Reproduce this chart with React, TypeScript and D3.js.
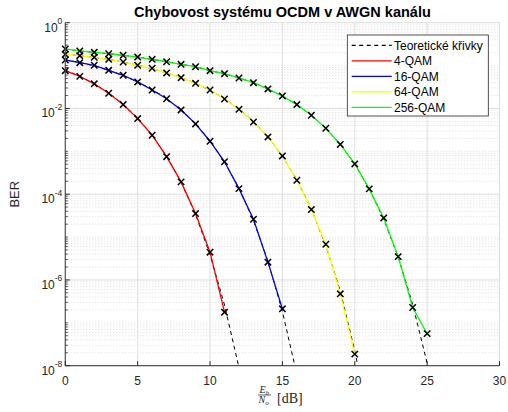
import React from 'react'
import * as d3 from 'd3'

// Eb/No in dB, one point per dB
const snr = d3.range(0, 27)

// simulated BER (markers + coloured lines)
const qam4Sim = [7.6e-2, 5.6e-2, 3.75e-2, 2.26e-2, 1.23e-2, 5.8e-3, 2.37e-3, 7.5e-4, 1.94e-4, 3.53e-5, 4.45e-6, 1.77e-7]
const qam16Sim = [0.135, 0.117, 0.1016, 0.0776, 0.0594, 0.0415, 0.0269, 0.0168, 0.00923, 0.00436, 0.00172, 5.7e-4, 1.35e-4, 2.61e-5, 2.6e-6, 2.12e-7]
const qam64Sim = [0.183, 0.17, 0.156, 0.14, 0.121, 0.1016, 0.0865, 0.0673, 0.0522, 0.0386, 0.0269, 0.0166, 0.00957, 0.00484, 0.00217, 7.8e-4, 2.12e-4, 4.38e-5, 6.8e-6, 4.74e-7, 1.86e-8]
const qam256Sim = [0.244, 0.219, 0.204, 0.189, 0.174, 0.158, 0.14, 0.123, 0.107, 0.0942, 0.076, 0.0647, 0.0514, 0.0399, 0.0285, 0.0195, 0.0123, 0.00693, 0.00345, 0.00145, 5.08e-4, 1.33e-4, 2.8e-5, 3.5e-6, 2.28e-7, 5.6e-8]

// theoretical BER (dashed)
const qam4Theory = [7.86e-2, 5.63e-2, 3.75e-2, 2.29e-2, 1.25e-2, 5.95e-3, 2.39e-3, 7.73e-4, 1.91e-4, 3.36e-5, 3.87e-6, 2.61e-7, 9.0e-9]
const qam16Theory = [0.136, 0.118, 0.0985, 0.0775, 0.0586, 0.0419, 0.0278, 0.017, 0.00924, 0.00439, 0.00176, 5.64e-4, 1.39e-4, 2.43e-5, 2.76e-6, 1.84e-7, 6.2e-9]
const qam64Theory = [0.183, 0.17, 0.156, 0.14, 0.121, 0.1016, 0.085, 0.0675, 0.0523, 0.0385, 0.0265, 0.0169, 0.00972, 0.00495, 0.00215, 7.72e-4, 2.17e-4, 4.5e-5, 6.36e-6, 5.5e-7, 2.2e-8, 5.0e-10]
const qam256Theory = [0.244, 0.219, 0.204, 0.189, 0.174, 0.158, 0.14, 0.123, 0.107, 0.0942, 0.076, 0.0647, 0.0514, 0.0399, 0.0285, 0.0195, 0.0123, 0.00693, 0.00345, 0.00145, 5.08e-4, 1.33e-4, 2.62e-5, 3.45e-6, 2.7e-7, 1.15e-8, 2.2e-10]

const seriesNames = ['4-QAM', '16-QAM', '64-QAM', '256-QAM']
const seriesColors = ['#ff0000', '#0000ff', '#ffff00', '#00ff00']
const simData = [qam4Sim, qam16Sim, qam64Sim, qam256Sim]
const theoryData = [qam4Theory, qam16Theory, qam64Theory, qam256Theory]

const xTicks = [0, 5, 10, 15, 20, 25, 30]
const yTickExps = [0, -2, -4, -6, -8]

const W = 508
const H = 412
const m = { left: 65.3, right: 499.5, top: 22.7, bottom: 365.7 }
const font = 'Liberation Sans, Arial, Helvetica, sans-serif'
const axisColor = '#262626'

export default function App() {
  const x = d3.scaleLinear().domain([0, 30]).range([m.left, m.right])
  const y = d3.scaleLog().domain([1e-8, 1]).range([m.bottom, m.top])
  const line = d3.line<[number, number]>().x(d => x(d[0])).y(d => y(d[1]))
  const pts = (vals: number[]) => vals.map((v, i) => [snr[i], v] as [number, number])

  // minor log grid: 1..9 x 10^k, majors only at even decades
  const minorY: number[] = []
  for (let k = -8; k < 0; k++) {
    for (let j = 1; j <= 9; j++) {
      if (j === 1 && k % 2 === 0) continue
      minorY.push(j * Math.pow(10, k))
    }
  }

  const legendRows = ['Teoretické křivky', ...seriesNames]

  return (
    <svg width={W} height={H} style={{ position: 'absolute', left: 0, top: 0, background: '#fff' }}>
      <defs>
        <clipPath id="plot">
          <rect x={m.left} y={m.top} width={m.right - m.left} height={m.bottom - m.top} />
        </clipPath>
      </defs>
      <rect width={W} height={H} fill="#fff" />

      {/* grid */}
      {minorY.map((v, i) => (
        <line key={'mg' + i} x1={m.left} x2={m.right} y1={y(v)} y2={y(v)} stroke="#c4c4c4" strokeWidth={0.6} strokeDasharray="1,2" />
      ))}
      {yTickExps.map(e => (
        <line key={'yg' + e} x1={m.left} x2={m.right} y1={y(Math.pow(10, e))} y2={y(Math.pow(10, e))} stroke="#dedede" strokeWidth={1} />
      ))}
      {xTicks.map(t => (
        <line key={'xg' + t} x1={x(t)} x2={x(t)} y1={m.top} y2={m.bottom} stroke="#dedede" strokeWidth={1} />
      ))}

      {/* theory */}
      <g clipPath="url(#plot)">
        {theoryData.map((d, i) => (
          <path key={'th' + i} d={line(pts(d)) || ''} fill="none" stroke="#000" strokeWidth={1} strokeDasharray="4,3.5" />
        ))}
      </g>

      {/* simulation */}
      {simData.map((d, i) => (
        <path key={'sim' + i} d={line(pts(d)) || ''} fill="none" stroke={seriesColors[i]} strokeWidth={1.3} />
      ))}
      {simData.map((d, i) =>
        d.map((v, j) => {
          const cx = x(snr[j])
          const cy = y(v)
          const r = 3.2
          return (
            <path key={'mk' + i + '-' + j} d={`M${cx - r},${cy - r}L${cx + r},${cy + r}M${cx - r},${cy + r}L${cx + r},${cy - r}`} stroke="#000" strokeWidth={1.5} />
          )
        })
      )}

      {/* axes */}
      <line x1={m.left} x2={m.right} y1={m.bottom} y2={m.bottom} stroke="#555" strokeWidth={1.2} />
      <line x1={m.left} x2={m.left} y1={m.top} y2={m.bottom} stroke="#555" strokeWidth={1.2} />
      {xTicks.map(t => (
        <g key={'xt' + t}>
          <line x1={x(t)} x2={x(t)} y1={m.bottom} y2={m.bottom - 4.5} stroke={axisColor} strokeWidth={1} />
          <text x={x(t)} y={m.bottom + 19} textAnchor="middle" fontFamily={font} fontSize={12} fill={axisColor}>{t}</text>
        </g>
      ))}
      {minorY.map((v, i) => (
        <line key={'ymt' + i} x1={m.left} x2={m.left + 2.5} y1={y(v)} y2={y(v)} stroke={axisColor} strokeWidth={0.8} />
      ))}
      {yTickExps.map(e => {
        const ty = y(Math.pow(10, e))
        return (
          <g key={'yt' + e}>
            <line x1={m.left} x2={m.left + 4.5} y1={ty} y2={ty} stroke={axisColor} strokeWidth={1} />
            <text x={m.left - 3} y={ty + 9} textAnchor="end" fontFamily={font} fontSize={12} fill={axisColor}>
              10<tspan dy={-7.5} fontSize={8.5}>{String(e)}</tspan>
            </text>
          </g>
        )
      })}

      {/* labels */}
      <text x={(m.left + m.right) / 2} y={17} textAnchor="middle" fontFamily={font} fontWeight="bold" fontSize={14.5} fill="#000">
        Chybovost systému OCDM v AWGN kanálu
      </text>
      <text transform={`translate(19,${(m.top + m.bottom) / 2}) rotate(-90)`} textAnchor="middle" fontFamily={font} fontSize={13} fill={axisColor}>
        BER
      </text>
      <g fontFamily="Liberation Serif, Times New Roman, serif" fill={axisColor}>
        <text x={259.5} y={393} fontSize={10} fontStyle="italic">E<tspan fontSize={7} dy={1.5}>b</tspan></text>
        <line x1={258} x2={271} y1={395} y2={395} stroke={axisColor} strokeWidth={0.7} />
        <text x={258.5} y={403} fontSize={10} fontStyle="italic">N<tspan fontSize={7} dy={1.5}>o</tspan></text>
        <text x={277} y={402.5} fontSize={14}>[dB]</text>
      </g>

      {/* legend */}
      <rect x={347.3} y={35} width={141} height={81} fill="#fff" stroke={axisColor} strokeWidth={0.8} />
      {legendRows.map((name, i) => {
        const ly = 45.3 + i * 15.5
        return (
          <g key={'lg' + i}>
            <line x1={351.7} x2={391.7} y1={ly} y2={ly} stroke={i === 0 ? '#000' : seriesColors[i - 1]} strokeWidth={1.2} strokeDasharray={i === 0 ? '4,3.5' : undefined} />
            <text x={394} y={ly + 4.3} fontFamily={font} fontSize={12} fill="#000">{name}</text>
          </g>
        )
      })}
    </svg>
  )
}
